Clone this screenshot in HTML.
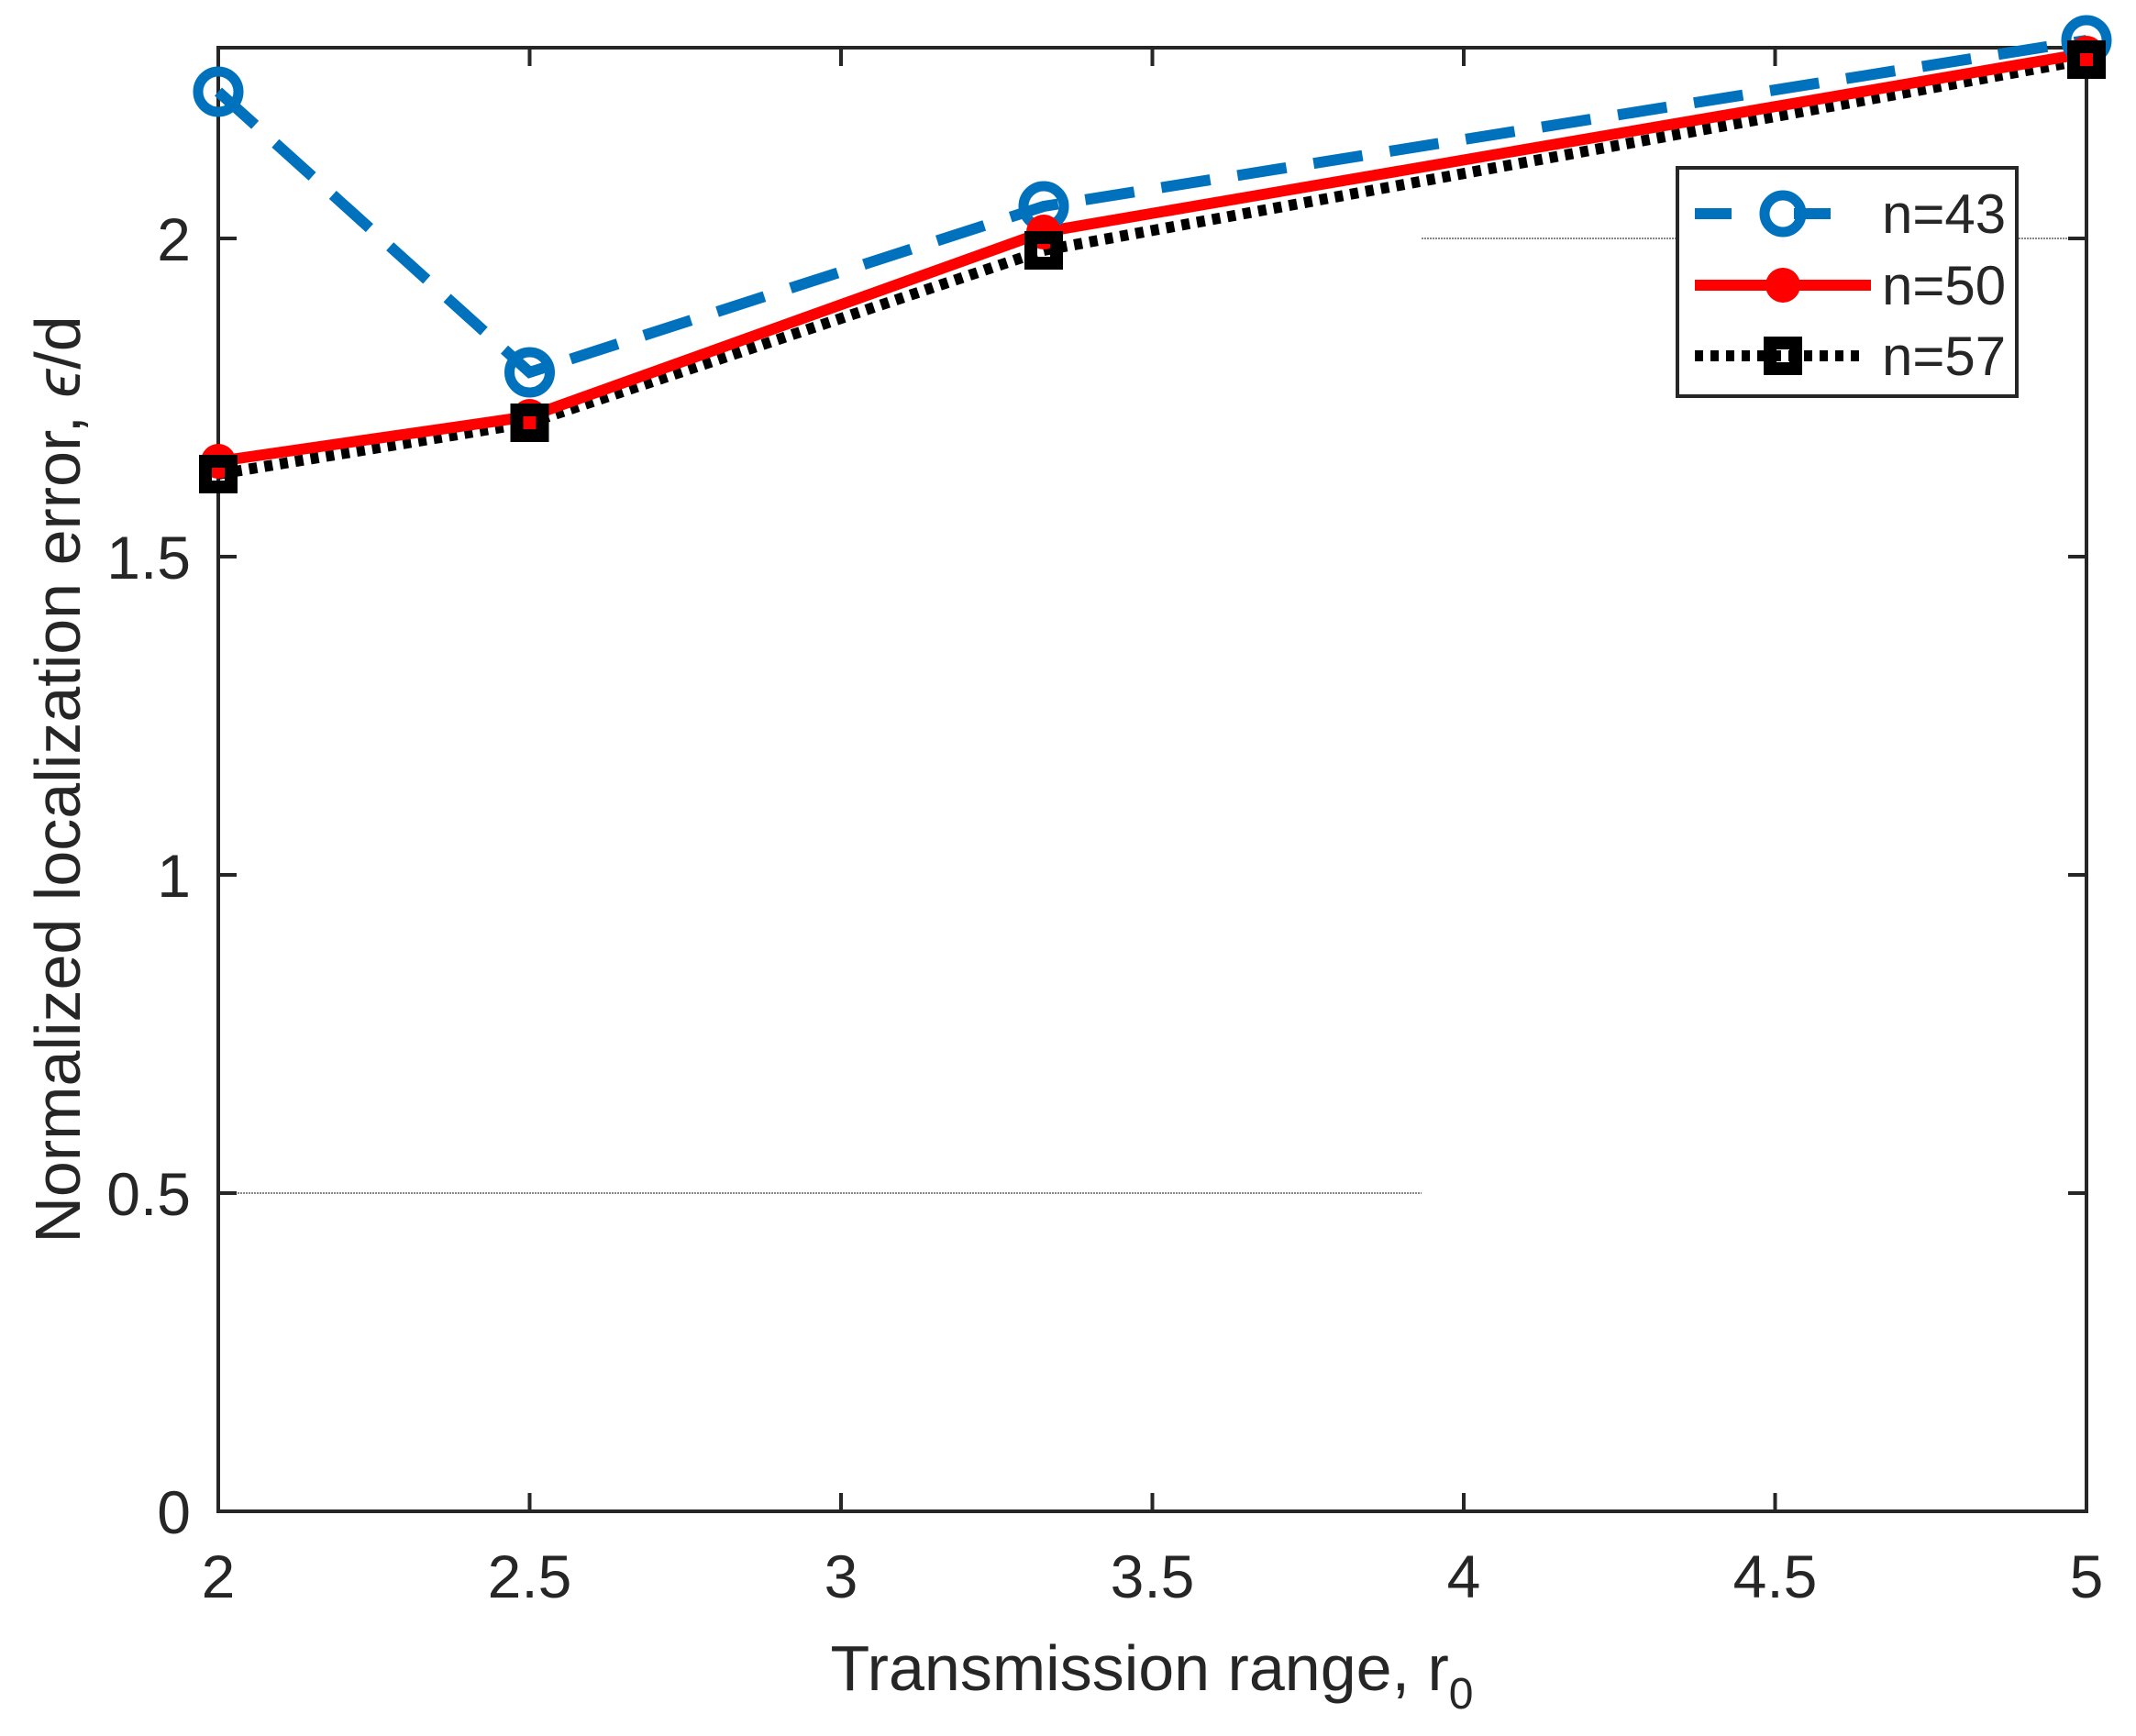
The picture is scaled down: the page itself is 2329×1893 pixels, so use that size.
<!DOCTYPE html>
<html><head><meta charset="utf-8"><style>
html,body{margin:0;padding:0;background:#fff;}
svg{display:block;}
text{font-family:"Liberation Sans",Arial,sans-serif;fill:#262626;}
</style></head><body>
<svg width="2329" height="1893" viewBox="0 0 2329 1893" xmlns="http://www.w3.org/2000/svg">
<rect width="2329" height="1893" fill="#fff"/>
<line x1="238" y1="1301" x2="1550" y2="1301" stroke="#888" stroke-width="2" stroke-dasharray="2,1"/>
<line x1="1550" y1="260" x2="2275" y2="260" stroke="#888" stroke-width="2" stroke-dasharray="2,1"/>
<rect x="238" y="52" width="2037" height="1596" fill="none" stroke="#262626" stroke-width="4"/>
<g stroke="#262626" stroke-width="4">
<line x1="577.5" y1="1648" x2="577.5" y2="1628"/><line x1="577.5" y1="52" x2="577.5" y2="72"/>
<line x1="917" y1="1648" x2="917" y2="1628"/><line x1="917" y1="52" x2="917" y2="72"/>
<line x1="1256.5" y1="1648" x2="1256.5" y2="1628"/><line x1="1256.5" y1="52" x2="1256.5" y2="72"/>
<line x1="1596" y1="1648" x2="1596" y2="1628"/><line x1="1596" y1="52" x2="1596" y2="72"/>
<line x1="1935.5" y1="1648" x2="1935.5" y2="1628"/><line x1="1935.5" y1="52" x2="1935.5" y2="72"/>
<line x1="238" y1="1301" x2="258" y2="1301"/><line x1="2275" y1="1301" x2="2255" y2="1301"/>
<line x1="238" y1="954" x2="258" y2="954"/><line x1="2275" y1="954" x2="2255" y2="954"/>
<line x1="238" y1="607" x2="258" y2="607"/><line x1="2275" y1="607" x2="2255" y2="607"/>
<line x1="238" y1="260" x2="258" y2="260"/><line x1="2275" y1="260" x2="2255" y2="260"/>
</g>
<g font-size="66" text-anchor="middle">
<text x="238" y="1742">2</text><text x="577.5" y="1742">2.5</text><text x="917" y="1742">3</text>
<text x="1256.5" y="1742">3.5</text><text x="1596" y="1742">4</text><text x="1935.5" y="1742">4.5</text><text x="2275" y="1742">5</text>
</g>
<g font-size="66" text-anchor="end">
<text x="208" y="1672">0</text><text x="208" y="1325">0.5</text><text x="208" y="978">1</text>
<text x="208" y="631">1.5</text><text x="208" y="284">2</text>
</g>
<text x="1256" y="1843" font-size="70" text-anchor="middle">Transmission range, r<tspan font-size="48" dy="20">0</tspan></text>
<text transform="translate(87,850) rotate(-90)" font-size="70" text-anchor="middle">Normalized localization error, <tspan font-style="italic">ϵ</tspan>/d</text>
<polyline points="238,517 577.5,461 1138,273 2275,65" fill="none" stroke="#000" stroke-width="12" stroke-dasharray="9,8"/>
<polyline points="238,503 577.5,454 1138,253 2275,58" fill="none" stroke="#f00" stroke-width="12"/>
<polyline points="238,100 577.5,406 1138,225 2275,44" fill="none" stroke="#0072bd" stroke-width="12" stroke-dasharray="54,30"/>
<g fill="none" stroke="#0072bd" stroke-width="11">
<circle cx="238" cy="100" r="22"/><circle cx="577.5" cy="406" r="22"/><circle cx="1138" cy="225" r="22"/><circle cx="2275" cy="44" r="22"/>
</g>
<g fill="#f00">
<circle cx="238" cy="503" r="19"/><circle cx="577.5" cy="454" r="19"/><circle cx="1138" cy="253" r="19"/><circle cx="2275" cy="58" r="19"/>
</g>
<g fill="none" stroke="#000" stroke-width="14">
<rect x="224" y="503" width="28" height="28"/><rect x="563.5" y="447" width="28" height="28"/><rect x="1124" y="259" width="28" height="28"/><rect x="2261" y="51" width="28" height="28"/>
</g>
<rect x="1829" y="183" width="370" height="249" fill="#fff" stroke="#262626" stroke-width="4"/>
<line x1="1848" y1="233" x2="2040" y2="233" stroke="#0072bd" stroke-width="12" stroke-dasharray="40,68"/>
<circle cx="1944" cy="233" r="20" fill="none" stroke="#0072bd" stroke-width="11"/>
<line x1="1848" y1="311" x2="2040" y2="311" stroke="#f00" stroke-width="12"/>
<circle cx="1944" cy="311" r="19" fill="#f00"/>
<line x1="1848" y1="388" x2="2032" y2="388" stroke="#000" stroke-width="12" stroke-dasharray="9,8"/>
<rect x="1930" y="374" width="28" height="28" fill="none" stroke="#000" stroke-width="14"/>
<g font-size="60"><text x="2052" y="254">n=43</text><text x="2052" y="332">n=50</text><text x="2052" y="409">n=57</text></g>
</svg>
</body></html>
